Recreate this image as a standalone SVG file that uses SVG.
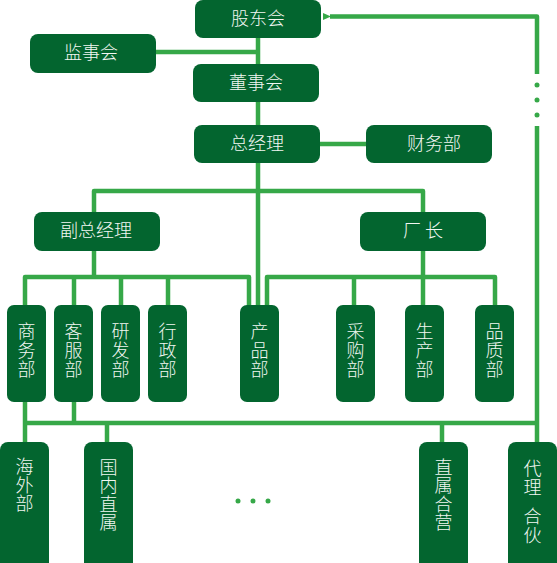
<svg xmlns="http://www.w3.org/2000/svg" width="557" height="563" viewBox="0 0 557 563">
<defs>
<style>
.box{fill:#03652f}
.ln{fill:none;stroke:#36a848;stroke-width:4.5;stroke-linejoin:round}
.t{fill:#f2f7f2;font-family:"Noto Sans CJK SC","Noto Sans CJK TC",sans-serif;font-size:18px;font-weight:300;text-anchor:middle}
.v{fill:#f2f7f2;font-family:"Noto Sans CJK SC","Noto Sans CJK TC",sans-serif;font-size:18px;font-weight:300;text-anchor:middle;writing-mode:vertical-rl;text-orientation:upright;letter-spacing:1px}
.v0{letter-spacing:0.5px}
.dot{fill:#36a848}
</style>
<marker id="ah" markerWidth="8" markerHeight="8" refX="1" refY="4" orient="auto" markerUnits="userSpaceOnUse">
<path d="M8,0.5 L0,4 L8,7.5 Z" fill="#36a848"/>
</marker>
</defs>
<rect width="557" height="563" fill="#ffffff"/>
<g id="connectors">
<path class="ln" d="M258,38 V64"/>
<path class="ln" d="M156,52 H258"/>
<path class="ln" d="M258,102 V125"/>
<path class="ln" d="M320,144 H366"/>
<path class="ln" d="M258,163 V305"/>
<path class="ln" d="M94,212 V191 H423 V212"/>
<path class="ln" d="M94,251 V277"/>
<path class="ln" d="M25,305 V277 H249 V305"/>
<path class="ln" d="M74,277 V305"/>
<path class="ln" d="M121,277 V305"/>
<path class="ln" d="M168,277 V305"/>
<path class="ln" d="M423,251 V305"/>
<path class="ln" d="M267,305 V277 H495 V305"/>
<path class="ln" d="M354,277 V305"/>
<path class="ln" d="M25,402 V442"/>
<path class="ln" d="M74,402 V423"/>
<path class="ln" d="M25,423 H537"/>
<path class="ln" d="M107,423 V442"/>
<path class="ln" d="M442,423 V442"/>
<path class="ln" d="M537,442 V126"/>
<path class="ln" d="M537,74 V16.5 H330" marker-end="url(#ah)"/>
<circle class="dot" cx="537" cy="85" r="2.5"/>
<circle class="dot" cx="537" cy="100" r="2.5"/>
<circle class="dot" cx="537" cy="115" r="2.5"/>
</g>
<g id="n-gudonghui"><rect class="box" x="195" y="0" width="126" height="38" rx="8"/><text class="t" x="258" y="25">股东会</text></g>
<g id="n-jianshihui"><rect class="box" x="30" y="34" width="126" height="39" rx="8"/><text class="t" x="91" y="59">监事会</text></g>
<g id="n-dongshihui"><rect class="box" x="193" y="64" width="126" height="38" rx="8"/><text class="t" x="256" y="89">董事会</text></g>
<g id="n-zongjingli"><rect class="box" x="194" y="125" width="126" height="38" rx="8"/><text class="t" x="257" y="150">总经理</text></g>
<g id="n-caiwubu"><rect class="box" x="366" y="125" width="126" height="38" rx="8"/><text class="t" x="434" y="150">财务部</text></g>
<g id="n-fuzongjingli"><rect class="box" x="34" y="212" width="126" height="39" rx="8"/><text class="t" x="96" y="237">副总经理</text></g>
<g id="n-changzhang"><rect class="box" x="360" y="212" width="126" height="39" rx="8"/><text class="t" x="423" y="237">厂 长</text></g>
<g id="n-shangwubu"><rect class="box" x="7" y="305" width="39" height="97" rx="7"/><text class="v" x="26.5" y="351">商务部</text></g>
<g id="n-kefubu"><rect class="box" x="54" y="305" width="39" height="97" rx="7"/><text class="v" x="73.5" y="351">客服部</text></g>
<g id="n-yanfabu"><rect class="box" x="101" y="305" width="39" height="97" rx="7"/><text class="v" x="120.5" y="351">研发部</text></g>
<g id="n-xingzhengbu"><rect class="box" x="148" y="305" width="39" height="97" rx="7"/><text class="v" x="167.5" y="351">行政部</text></g>
<g id="n-chanpinbu"><rect class="box" x="240" y="305" width="39" height="97" rx="7"/><text class="v" x="259.5" y="351">产品部</text></g>
<g id="n-caigoubu"><rect class="box" x="336" y="305" width="39" height="97" rx="7"/><text class="v" x="355.5" y="351">采购部</text></g>
<g id="n-shengchanbu"><rect class="box" x="405" y="305" width="39" height="97" rx="7"/><text class="v" x="424.5" y="351">生产部</text></g>
<g id="n-pinzhibu"><rect class="box" x="475" y="305" width="39" height="97" rx="7"/><text class="v" x="494.5" y="351">品质部</text></g>
<g id="n-haiwaibu"><rect class="box" x="0" y="442" width="49" height="130" rx="8"/><text class="v v0" x="24.5" y="485">海外部</text></g>
<g id="n-guoneizhishu"><rect class="box" x="84" y="442" width="49" height="130" rx="8"/><text class="v v0" x="108.5" y="495">国内直属</text></g>
<g id="n-zhishuheying"><rect class="box" x="419" y="442" width="49" height="130" rx="8"/><text class="v v0" x="443.5" y="495">直属合营</text></g>
<g id="n-dailihehuo"><rect class="box" x="508" y="442" width="49" height="130" rx="8"/><text class="v" x="532.5" y="478">代理</text><text class="v v0" x="532.5" y="526">合伙</text></g>
<g id="ellipsis"><circle class="dot" cx="238" cy="501" r="2.5"/><circle class="dot" cx="253" cy="501" r="2.5"/><circle class="dot" cx="268" cy="501" r="2.5"/></g>
</svg>
